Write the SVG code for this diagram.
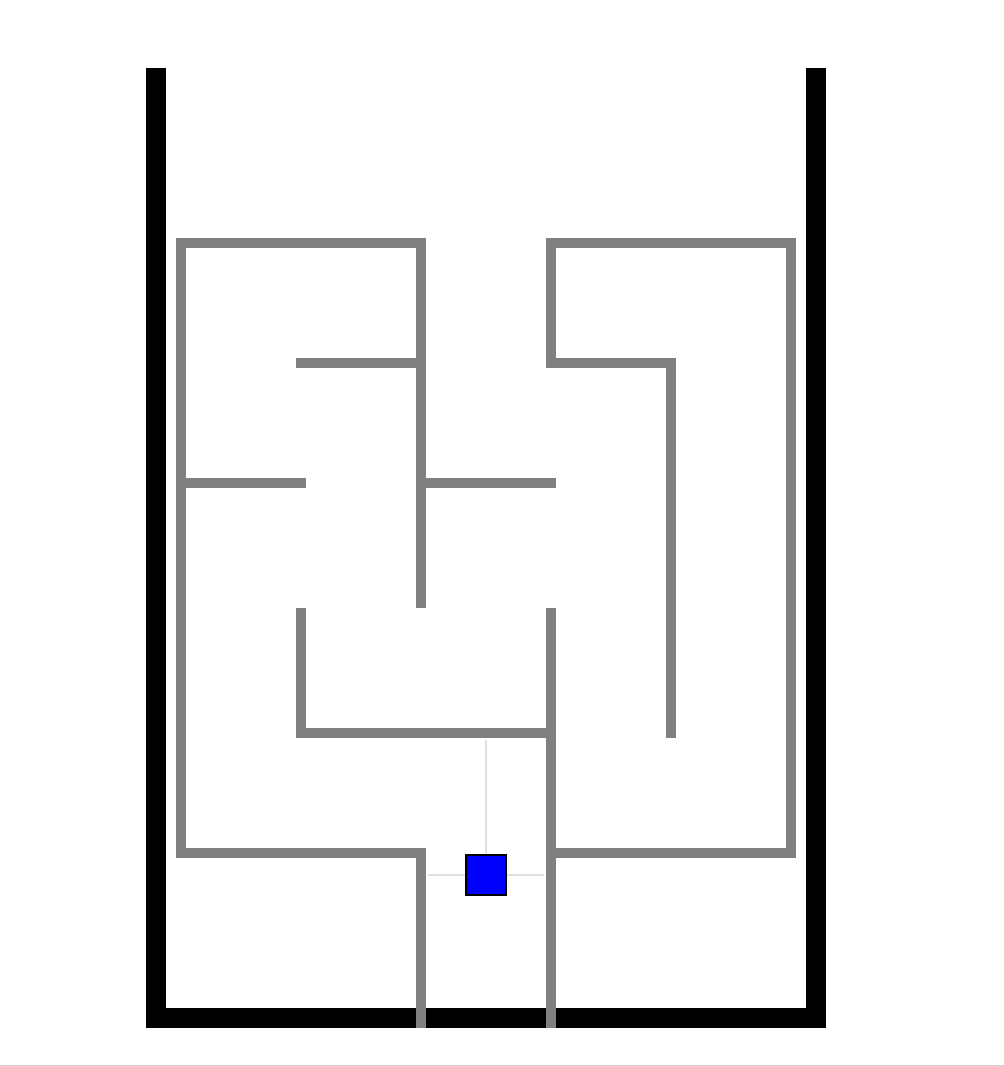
<svg xmlns="http://www.w3.org/2000/svg" width="1004" height="1066" viewBox="0 0 1004 1066">
  <style>
    .outer { fill: #000000; }
    .wall { fill: #808080; }
    .ray { stroke: #e0e0e0; stroke-width: 2; fill: none; }
    .robot { fill: #0000ff; stroke: #000000; stroke-width: 2; }
  </style>
  <rect x="0" y="0" width="1004" height="1066" fill="#ffffff"/>
  <g id="outer-walls">
    <rect class="outer" x="146" y="68" width="20" height="960"/>
    <rect class="outer" x="806" y="68" width="20" height="960"/>
    <rect class="outer" x="146" y="1008" width="680" height="20"/>
  </g>
  <g id="inner-walls">
    <rect class="wall" x="176" y="238" width="250" height="10"/>
    <rect class="wall" x="176" y="238" width="10" height="620"/>
    <rect class="wall" x="416" y="238" width="10" height="370"/>
    <rect class="wall" x="296" y="358" width="130" height="10"/>
    <rect class="wall" x="176" y="478" width="130" height="10"/>
    <rect class="wall" x="416" y="478" width="140" height="10"/>
    <rect class="wall" x="296" y="608" width="10" height="130"/>
    <rect class="wall" x="296" y="728" width="260" height="10"/>
    <rect class="wall" x="546" y="608" width="10" height="420"/>
    <rect class="wall" x="176" y="848" width="250" height="10"/>
    <rect class="wall" x="416" y="848" width="10" height="180"/>
    <rect class="wall" x="546" y="238" width="250" height="10"/>
    <rect class="wall" x="546" y="238" width="10" height="130"/>
    <rect class="wall" x="546" y="358" width="130" height="10"/>
    <rect class="wall" x="666" y="358" width="10" height="380"/>
    <rect class="wall" x="786" y="238" width="10" height="620"/>
    <rect class="wall" x="546" y="848" width="250" height="10"/>
  </g>
  <g id="sensor-rays">
    <line class="ray" x1="486" y1="740" x2="486" y2="854"/>
    <line class="ray" x1="428" y1="875" x2="466" y2="875"/>
    <line class="ray" x1="506" y1="875" x2="544" y2="875"/>
  </g>
  <g id="robot">
    <rect class="robot" x="466" y="855" width="40" height="40"/>
  </g>
  <rect x="0" y="1065" width="1004" height="1" fill="#d0d0d0"/>
</svg>
